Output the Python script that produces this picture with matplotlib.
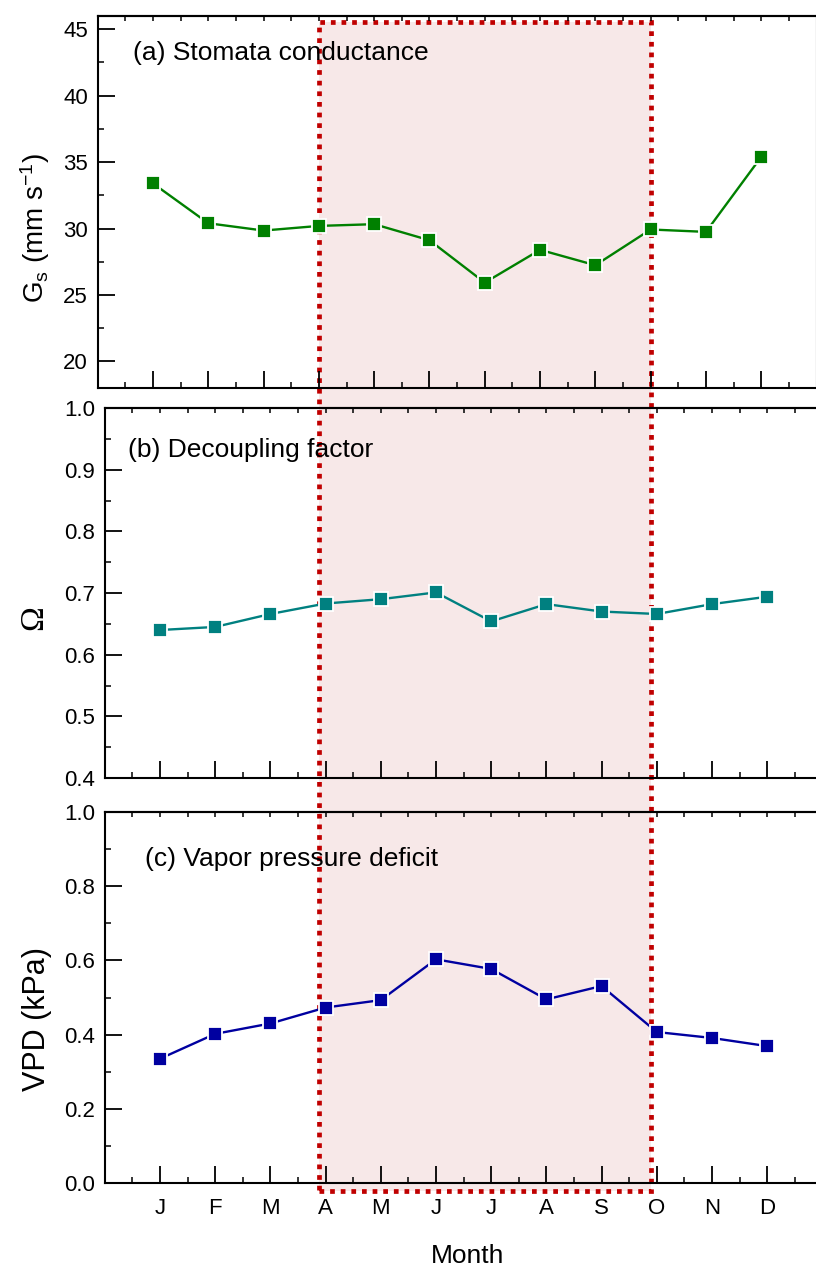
import matplotlib
matplotlib.use("Agg")
import matplotlib.pyplot as plt
import matplotlib.transforms as mtransforms
from matplotlib.patches import Rectangle
from matplotlib.ticker import FixedLocator, MultipleLocator, NullFormatter, FormatStrFormatter
import numpy as np

plt.rcParams["font.family"] = ["Liberation Sans", "DejaVu Sans"]
plt.rcParams["mathtext.fontset"] = "custom"
plt.rcParams["mathtext.rm"] = "Liberation Sans"
plt.rcParams["mathtext.it"] = "Liberation Sans:italic"

# ---- data -------------------------------------------------------------
months = ["J", "F", "M", "A", "M", "J", "J", "A", "S", "O", "N", "D"]
month_num = list(range(1, 13))
gs = [33.4, 30.4, 29.85, 30.2, 30.33, 29.12, 25.93, 28.4, 27.24, 29.93, 29.75, 35.4]
omega = [0.640, 0.645, 0.666, 0.683, 0.690, 0.701, 0.654, 0.682, 0.670, 0.666, 0.682, 0.694]
vpd = [0.335, 0.402, 0.430, 0.473, 0.493, 0.603, 0.577, 0.495, 0.531, 0.407, 0.391, 0.369]
season = (4, 10)  # April .. October

# ---- figure -----------------------------------------------------------
fig = plt.figure(figsize=(8.16, 12.7), dpi=100)
ax_a = fig.add_axes([0.1197, 0.6945, 0.8810, 0.2929])
ax_b = fig.add_axes([0.1284, 0.3874, 0.8794, 0.2913])
ax_c = fig.add_axes([0.1284, 0.0685, 0.8794, 0.2921])

TICK_FS = 16
panels = [
    (ax_a, gs, "#008000", (18, 46), 5, 2.5, "%d", "(a) Stomata conductance", (0.049, 0.900)),
    (ax_b, omega, "#008080", (0.4, 1.0), 0.1, 0.05, "%.1f", "(b) Decoupling factor", (0.032, 0.886)),
    (ax_c, vpd, "#0000A0", (0.0, 1.0), 0.2, 0.1, "%.1f", "(c) Vapor pressure deficit", (0.056, 0.873)),
]

for ax, vals, col, ylim, major, minor, fmt, title, tpos in panels:
    ax.set_facecolor("none")
    ax.plot(month_num, vals, color=col, lw=1.7, marker="s", ms=10.0,
            mfc=col, mec="white", mew=1.3, zorder=3, clip_on=False)
    ax.set_xlim(0, 13)
    ax.set_ylim(*ylim)
    for s in ax.spines.values():
        s.set_linewidth(1.5)

    ax.xaxis.set_major_locator(FixedLocator(month_num))
    ax.xaxis.set_minor_locator(FixedLocator(np.arange(0.5, 13, 1.0)))
    ax.yaxis.set_major_locator(MultipleLocator(major))
    ax.yaxis.set_minor_locator(MultipleLocator(minor))
    ax.yaxis.set_major_formatter(FormatStrFormatter(fmt))

    ax.tick_params(axis="both", which="major", direction="in", length=12, width=1.3,
                   labelsize=TICK_FS, top=False, right=False)
    ax.tick_params(axis="both", which="minor", direction="in", length=4, width=1.1,
                   top=False, right=False)
    ax.tick_params(axis="y", which="major", pad=7)
    ax.tick_params(axis="x", which="major", pad=11)

    top = ax.secondary_xaxis("top")
    top.xaxis.set_major_locator(FixedLocator(np.arange(0.5, 13, 0.5)))
    top.xaxis.set_major_formatter(NullFormatter())
    top.tick_params(axis="x", which="major", direction="in", length=3.5, width=1.1)
    top.spines["top"].set_linewidth(1.5)

    ax.text(tpos[0], tpos[1], title, transform=ax.transAxes, ha="left", va="center",
            fontsize=19)

ax_a.set_xticklabels([])
ax_b.set_xticklabels([])
ax_c.set_xticklabels(months)

# ---- growing season highlight (April - October) -----------------------
trans = mtransforms.blended_transform_factory(ax_a.transData, fig.transFigure)
y0, y1 = 1 - 1190.7 / 1270, 1 - 22 / 1270
fill = Rectangle((season[0], y0), season[1] - season[0], y1 - y0, transform=trans,
                 facecolor="#F7E8E8", edgecolor="none", zorder=-2)
edge = Rectangle((season[0], y0), season[1] - season[0], y1 - y0, transform=trans,
                 facecolor="none", edgecolor="#C00000", lw=3.4,
                 linestyle=(0, (1.0, 1.25)), zorder=-1)
edge.set_capstyle("butt")
fig.add_artist(fill)
fig.add_artist(edge)

# ---- axis labels ------------------------------------------------------
fig.text(35 / 816, 1 - 228 / 1270, r"G$_\mathregular{s}$ (mm s$^\mathregular{-1}$)",
         rotation=90, ha="center", va="center", fontsize=20)
fig.text(34 / 816, 1 - 618 / 1270, "\u03a9", rotation=90, ha="center", va="center",
         fontsize=24, family=["Liberation Serif", "DejaVu Serif"])
fig.text(37 / 816, 1 - 1019 / 1270, "VPD (kPa)", rotation=90, ha="center",
         va="center", fontsize=22)
fig.text(468 / 816, 1 - 1256 / 1270, "Month", ha="center", va="center", fontsize=19)

fig.savefig("out.png", dpi=100)
